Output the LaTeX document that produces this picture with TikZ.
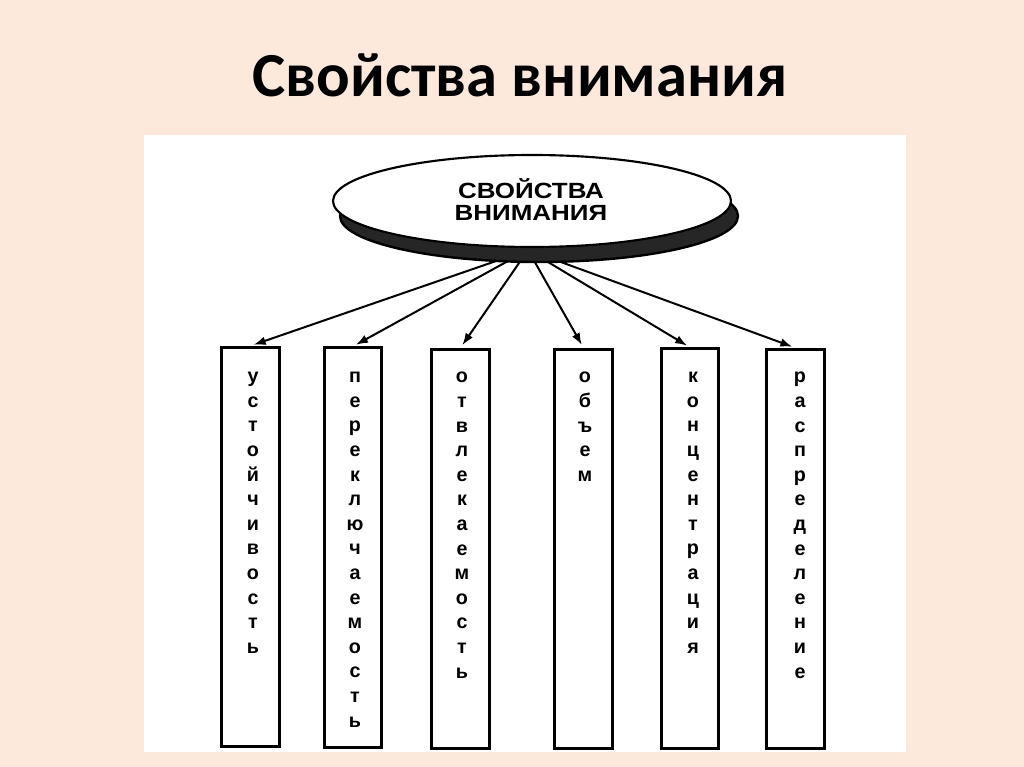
\documentclass[tikz,border=0pt]{standalone}
\usepackage{fontspec}
\usepackage{graphicx}
\setmainfont{Liberation Sans}
\newfontfamily\titlefont{Carlito}
\usetikzlibrary{shapes.geometric,arrows.meta}
\definecolor{peach}{RGB}{252,233,220}
\tikzset{
  box/.style={draw=black, line width=2.2pt, fill=white, minimum width=43pt, minimum height=299.5pt, inner sep=0pt},
  letters/.style={anchor=north, align=center, inner sep=0pt, font=\bfseries\fontsize{14.8}{18.45}\selectfont},
  arr/.style={-{Latex[length=9pt,width=6.5pt]}, line width=1.5pt, shorten >=2.5pt},
  oval/.style={ellipse, minimum width=298.5pt, minimum height=69pt, inner sep=0pt},
}
\begin{document}
\begin{tikzpicture}[x=0.75pt,y=-0.75pt]
\fill[peach] (0,0) rectangle (1024,767);
\useasboundingbox (0,0) rectangle (1024,767);
\fill[white] (144,135) rectangle (906,752);
\node[font=\titlefont\bfseries\fontsize{47}{56}\selectfont, anchor=base] (title) at (520,97) {Свойства внимания};
\coordinate (hub) at (528,250);
% boxes
\node[box] (b1) at (250.5,547) {};
\node[box] (b2) at (353,547.5) {};
\node[box] (b3) at (460.5,549) {};
\node[box] (b4) at (583.5,549) {};
\node[box] (b5) at (690,548.5) {};
\node[box] (b6) at (795.5,549) {};
% arrows
\foreach \b in {b1,b2,b3,b4,b5,b6} \draw[arr] (hub) -- (\b.north);
% shadow and oval
\node[oval, fill=black!85, draw=black, line width=1.8pt] (shadow) at (539,216) {};
\node[oval, fill=white, draw=black, line width=1.6pt] (top) at (532,201) {};
\node[align=center, inner sep=0pt, font=\bfseries\fontsize{16.5}{16.5}\selectfont] (toptext) at (531,200)
  {\scalebox{1.18}[1]{СВОЙСТВА}\\\scalebox{1.18}[1]{ВНИМАНИЯ}};
% letters
\node[letters] (t1) at (253,372) {у\\с\\т\\о\\й\\ч\\и\\в\\о\\с\\т\\ь};
\node[letters] (t2) at (355,372) {п\\е\\р\\е\\к\\л\\ю\\ч\\а\\е\\м\\о\\с\\т\\ь};
\node[letters] (t3) at (462,372) {о\\т\\в\\л\\е\\к\\а\\е\\м\\о\\с\\т\\ь};
\node[letters] (t4) at (585,372) {о\\б\\ъ\\е\\м};
\node[letters] (t5) at (693,372) {к\\о\\н\\ц\\е\\н\\т\\р\\а\\ц\\и\\я};
\node[letters] (t6) at (800,372) {р\\а\\с\\п\\р\\е\\д\\е\\л\\е\\н\\и\\е};
\end{tikzpicture}
\end{document}
